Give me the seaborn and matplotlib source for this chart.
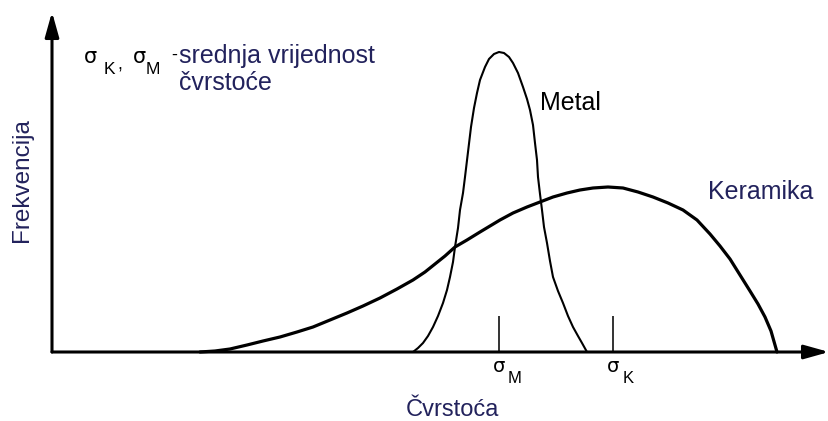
import matplotlib
matplotlib.use('Agg')
import matplotlib.pyplot as plt
import seaborn as sns

# strength (x) and frequency (y), origin at the axis corner
metal_strength = [361, 366, 371, 376, 381, 386, 391, 395, 398, 401, 403, 406, 408, 411, 413, 416,
                  419, 422, 425, 428, 433, 437, 442, 447, 452, 457, 461, 466, 471, 475, 478, 481,
                  483, 485, 486, 488, 490, 492, 495, 498, 501, 506, 511, 516, 521, 526, 530, 535]
metal_freq = [0, 4, 9, 16, 25, 36, 49, 62, 75, 90, 105, 124, 142, 159, 175, 200,
              225, 244, 259, 272, 285, 293, 298, 300, 299, 295, 289, 279, 265, 253, 242, 227,
              209, 192, 175, 158, 142, 125, 109, 91, 75, 61, 49, 36, 25, 16, 9, 0]

ceramic_strength = [148, 163, 178, 195, 211, 228, 245, 261, 278, 295, 311, 328, 345, 361, 373,
                    383, 393, 403, 415, 428, 438, 448, 461, 475, 488, 501, 515, 528, 541, 556,
                    571, 586, 601, 616, 631, 645, 658, 668, 678, 688, 698, 706, 713, 719, 725]
ceramic_freq = [0, 1, 3, 7, 11, 15, 20, 25, 32, 39, 46, 54, 63, 72, 80,
                88, 96, 105, 112, 120, 126, 132, 139, 145, 150, 155, 159, 162, 164, 165,
                164, 160, 155, 149, 142, 132, 118, 106, 93, 77, 61, 48, 35, 21, 0]

# mean strengths marked on the axis
mean_labels = ['M', 'K']
mean_strength = [447, 561]

text_color = '#22225c'

sns.set_theme(style='white')
plt.rcParams['font.family'] = ['Liberation Sans', 'DejaVu Sans']

fig = plt.figure(figsize=(8.29, 4.21), dpi=100)
ax = fig.add_axes([0, 0, 1, 1])
ax.set_xlim(-52, 777)
ax.set_ylim(-69, 352)
ax.set_axis_off()

# axes with arrow heads
arrow = dict(arrowstyle='-|>,head_length=1.0,head_width=0.28', color='black',
             lw=2.2, mutation_scale=15, shrinkA=0, shrinkB=0)
ax.annotate('', xy=(777, 0), xytext=(0, 0), arrowprops=arrow)
ax.annotate('', xy=(0, 340), xytext=(0, 0), arrowprops=arrow)

# distributions
sns.lineplot(x=ceramic_strength, y=ceramic_freq, sort=False, estimator=None,
             color='black', lw=2.3, ax=ax)
sns.lineplot(x=metal_strength, y=metal_freq, sort=False, estimator=None,
             color='black', lw=1.5, ax=ax)
for ln in ax.lines:
    ln.set_solid_joinstyle('round')

# mean markers and their labels
def sigma(x, y, sub, dx, dy, size=14, sub_size=12):
    ax.text(x, y, 'σ', fontsize=size, ha='center', va='center', color='black',
            family=['DejaVu Sans'])
    ax.annotate(sub, xy=(x, y), xytext=(dx, dy), textcoords='offset points',
                fontsize=sub_size, ha='center', va='center', color='black')

for lab, s in zip(mean_labels, mean_strength):
    ax.vlines(s, 0, 36, color='#333333', lw=1.4)
    sigma(s, -14, lab, 11, -9)

ax.text(488, 249, 'Metal', fontsize=18, color='black', va='center', ha='left')
ax.text(656, 160, 'Keramika', fontsize=18, color=text_color, va='center', ha='left')
ax.text(-30, 172, 'Frekvencija', fontsize=17.5, color=text_color, rotation=90,
        ha='center', va='center')
ax.text(400, -58, 'Čvrstoća', fontsize=17, color=text_color, ha='center', va='center')

# legend note in the top left
sigma(38, 295, 'K', 14, -9, size=15, sub_size=12.5)
ax.text(68, 287, ',', fontsize=13, color='black', ha='center', va='center')
sigma(87, 295, 'M', 10, -9, size=15, sub_size=12.5)
ax.text(122, 297, '-', fontsize=13, color='black', ha='center', va='center')
ax.text(127, 289, 'srednja vrijednost', fontsize=18, color=text_color, va='baseline')
ax.text(127, 262, 'čvrstoće', fontsize=18, color=text_color, va='baseline')

fig.savefig('out.png', dpi=100)
